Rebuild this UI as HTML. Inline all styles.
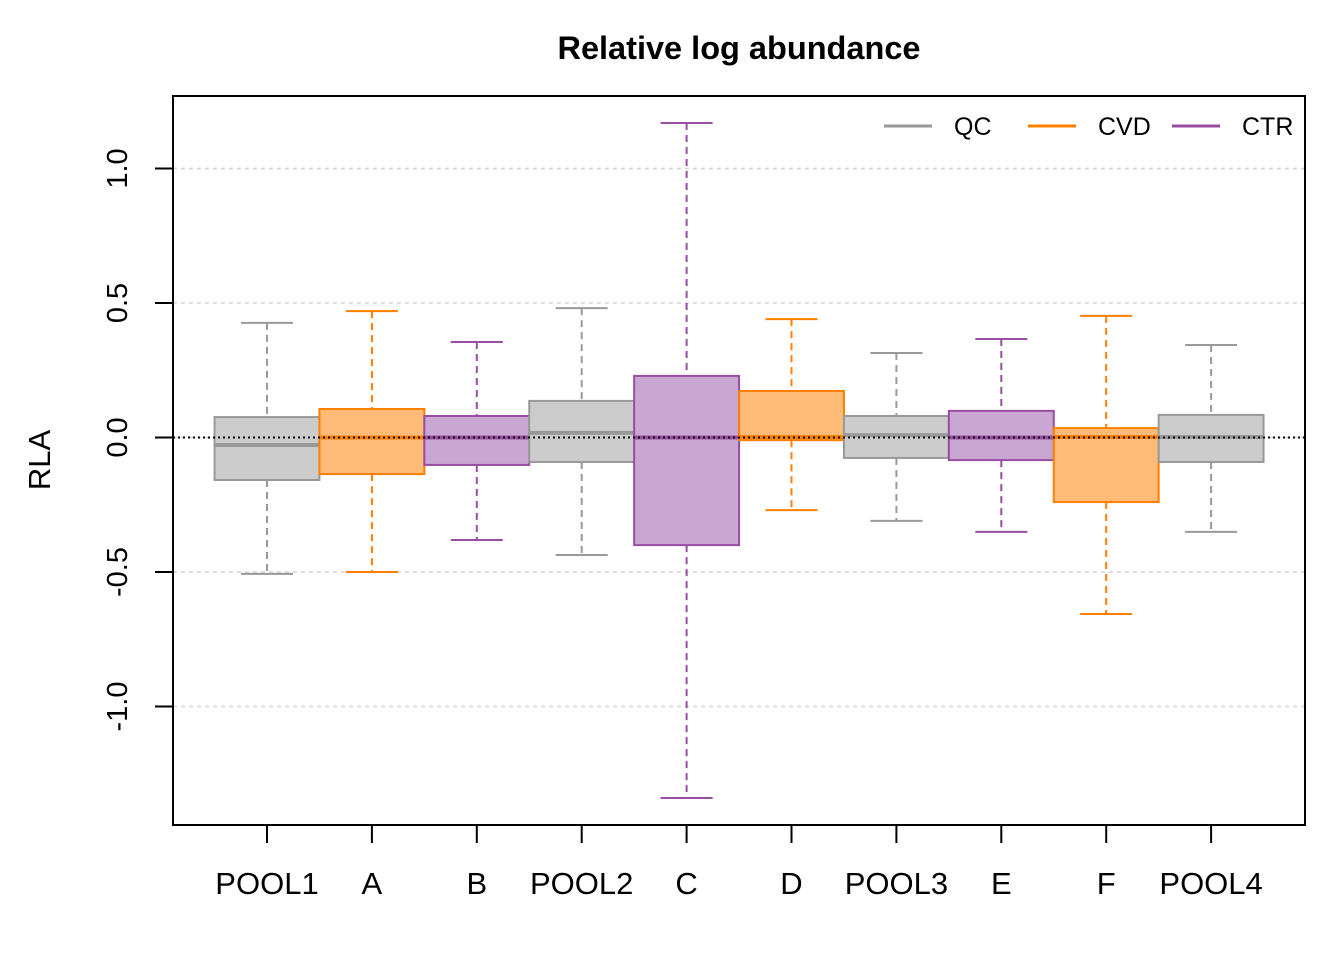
<!DOCTYPE html>
<html><head><meta charset="utf-8"><style>
body{margin:0;background:#fff}
svg text{font-family:"Liberation Sans",Arial,sans-serif}
</style></head><body>
<svg id="chart" width="1344" height="960" xmlns="http://www.w3.org/2000/svg">
<text x="739" y="59" text-anchor="middle" font-size="32.5" font-weight="bold">Relative log abundance</text>
<text transform="translate(50,460) rotate(-90)" text-anchor="middle" font-size="31">RLA</text>
<g id="grid"></g><g id="boxes"></g><g id="axes"></g>
<rect x="173" y="96" width="1132" height="729" fill="none" stroke="#000" stroke-width="2"/>
<g>
<line x1="884" y1="126" x2="932" y2="126" stroke="#999" stroke-width="3"/>
<text x="954" y="135" font-size="25">QC</text>
<line x1="1028" y1="126" x2="1076" y2="126" stroke="#ff7f00" stroke-width="3"/>
<text x="1098" y="135" font-size="25">CVD</text>
<line x1="1172" y1="126" x2="1220" y2="126" stroke="#984ea3" stroke-width="3"/>
<text x="1242" y="135" font-size="25">CTR</text>
</g>
</svg>
<script>
const categories=["POOL1","A","B","POOL2","C","D","POOL3","E","F","POOL4"];
const groups=["QC","CVD","CTR","QC","CTR","CVD","QC","CTR","CVD","QC"];
const whiskerHigh=[0.426,0.47,0.355,0.481,1.169,0.44,0.314,0.366,0.452,0.344];
const q3=[0.076,0.106,0.08,0.136,0.229,0.173,0.08,0.099,0.035,0.084];
const medians=[-0.028,0,0,0.017,0,0.002,0.009,0,0.002,0.002];
const q1=[-0.158,-0.136,-0.102,-0.091,-0.4,-0.01,-0.076,-0.084,-0.24,-0.091];
const whiskerLow=[-0.507,-0.5,-0.381,-0.437,-1.34,-0.27,-0.31,-0.351,-0.656,-0.351];
const yTicks=[-1.0,-0.5,0.0,0.5,1.0];
const yTickLabels=["-1.0","-0.5","0.0","0.5","1.0"];
const NS="http://www.w3.org/2000/svg";
const y=v=>437.5-v*269;
const x=i=>267+i*104.9;
const pal={QC:{f:"#cccccc",s:"#999999",m:"#999999"},CVD:{f:"#ffbb77",s:"#ff7f00",m:"#ff7f00"},CTR:{f:"#caa6d2",s:"#984ea3",m:"#984ea3"}};
function mk(t,a,p){const e=document.createElementNS(NS,t);for(const k in a)e.setAttribute(k,a[k]);p.appendChild(e);return e;}
const grid=document.getElementById("grid"),boxes=document.getElementById("boxes"),axes=document.getElementById("axes");
yTicks.forEach((v,i)=>{
 const g=mk("line",{x1:173,x2:1305,y1:y(v),y2:y(v),stroke:"#d3d3d3","stroke-width":1.5,"stroke-dasharray":"4,4"},grid);
 
 
 const t=mk("line",{x1:155,x2:173,y1:y(v),y2:y(v),stroke:"#000","stroke-width":2},axes);
 
 
 const l=mk("text",{transform:`translate(127,${y(v)}) rotate(-90)`,"text-anchor":"middle","font-size":29},axes);
 l.textContent=yTickLabels[i];
 
 
});
categories.forEach((c,i)=>{
 const p=pal[groups[i]],cx=x(i),w=104.9;
 const g=mk("g",{},boxes);
 
 
 mk("line",{x1:cx,x2:cx,y1:y(whiskerHigh[i]),y2:y(q3[i]),stroke:p.s,"stroke-width":2,"stroke-dasharray":"7,5"},g);
 mk("line",{x1:cx,x2:cx,y1:y(q1[i]),y2:y(whiskerLow[i]),stroke:p.s,"stroke-width":2,"stroke-dasharray":"7,5"},g);
 mk("line",{x1:cx-26,x2:cx+26,y1:y(whiskerHigh[i]),y2:y(whiskerHigh[i]),stroke:p.s,"stroke-width":2},g);
 mk("line",{x1:cx-26,x2:cx+26,y1:y(whiskerLow[i]),y2:y(whiskerLow[i]),stroke:p.s,"stroke-width":2},g);
 mk("rect",{x:cx-w/2,y:y(q3[i]),width:w,height:y(q1[i])-y(q3[i]),fill:p.f,stroke:p.s,"stroke-width":2},g);
 mk("line",{x1:cx-w/2,x2:cx+w/2,y1:y(medians[i]),y2:y(medians[i]),stroke:p.m,"stroke-width":4},g);
 const t=mk("line",{x1:cx,x2:cx,y1:825,y2:843,stroke:"#000","stroke-width":2},axes);
 
 
 const l=mk("text",{x:cx,y:894,"text-anchor":"middle","font-size":31},axes);
 l.textContent=c;
 
 
});
const z=mk("line",{x1:173,x2:1305,y1:y(0),y2:y(0),stroke:"#000","stroke-width":2,"stroke-dasharray":"2,3"},boxes);


</script>
</body></html>
